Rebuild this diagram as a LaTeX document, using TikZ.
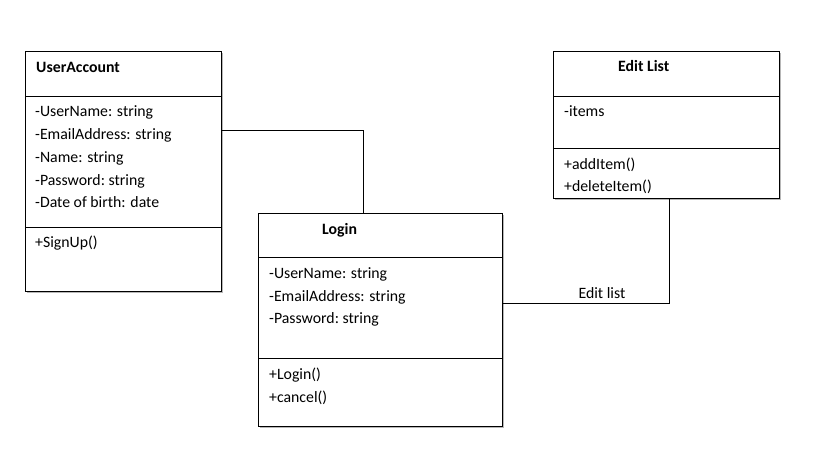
\documentclass[tikz,border=0pt]{standalone}
\usepackage{fontspec}
\setmainfont{Carlito}
\usetikzlibrary{shadows}
\begin{document}
\begin{tikzpicture}[x=1pt,y=1pt,
  classbox/.style={draw=black, line width=0.8pt, fill=white, anchor=north west, inner sep=0pt,
     drop shadow={shadow xshift=2pt, shadow yshift=-2pt, fill=black!40, opacity=0.7}},
  txt/.style={anchor=base west, inner sep=0pt, font=\fontsize{15.8}{19}\selectfont},
  ttl/.style={anchor=base west, inner sep=0pt, font=\fontsize{15.8}{19}\selectfont\bfseries},
  divider/.style={draw=black, line width=0.8pt},
  conn/.style={draw=black, line width=0.8pt}]
\useasboundingbox (0,0) rectangle (823,-474);

% UserAccount
\node[classbox, minimum width=196, minimum height=240] (ua) at (25,-51) {};
\coordinate (ua1l) at (25,-96); \coordinate (ua1r) at (221,-96);
\coordinate (ua2l) at (25,-227); \coordinate (ua2r) at (221,-227);
\draw[divider] (ua1l) -- (ua1r);
\draw[divider] (ua2l) -- (ua2r);
\node[ttl] (uat) at (36,-72) {UserAccount};
\node[txt] (uaa1) at (35,-116) {-UserName: string};
\node[txt] (uaa2) at (35,-139) {-EmailAddress: string};
\node[txt] (uaa3) at (35,-162) {-Name: string};
\node[txt] (uaa4) at (35,-185) {-Password:\ string};
\node[txt] (uaa5) at (35,-207) {-Date of birth: date};
\node[txt] (uam1) at (35,-247) {+SignUp()};

% Login
\node[classbox, minimum width=244, minimum height=213] (lg) at (258,-213) {};
\coordinate (lg1l) at (258,-257); \coordinate (lg1r) at (502,-257);
\coordinate (lg2l) at (258,-358); \coordinate (lg2r) at (502,-358);
\draw[divider] (lg1l) -- (lg1r);
\draw[divider] (lg2l) -- (lg2r);
\node[ttl] (lgt) at (322,-234) {Login};
\node[txt] (lga1) at (269,-278) {-UserName: string};
\node[txt] (lga2) at (269,-301) {-EmailAddress: string};
\node[txt] (lga3) at (269,-323) {-Password:\ string};
\node[txt] (lgm1) at (269,-379) {+Login()};
\node[txt] (lgm2) at (269,-402) {+cancel()};

% Edit List
\node[classbox, minimum width=226, minimum height=147] (el) at (553,-51) {};
\coordinate (el1l) at (553,-96); \coordinate (el1r) at (779,-96);
\coordinate (el2l) at (553,-148); \coordinate (el2r) at (779,-148);
\draw[divider] (el1l) -- (el1r);
\draw[divider] (el2l) -- (el2r);
\node[ttl] (elt) at (618,-71) {Edit List};
\node[txt] (ela1) at (564,-116) {-items};
\node[txt] (elm1) at (564,-169) {+addItem()};
\node[txt] (elm2) at (564,-191) {+deleteItem()};

% connectors
\coordinate (c1) at (221,-130);
\coordinate (c1b) at (363,-213);
\draw[conn] (c1) -| (c1b);
\coordinate (c2) at (502,-303);
\coordinate (c2b) at (669,-198);
\draw[conn] (c2) -| (c2b);
\node[anchor=base, inner sep=0pt, font=\fontsize{15.8}{19}\selectfont] (lbl) at (602,-298) {Edit list};
\end{tikzpicture}
\end{document}
